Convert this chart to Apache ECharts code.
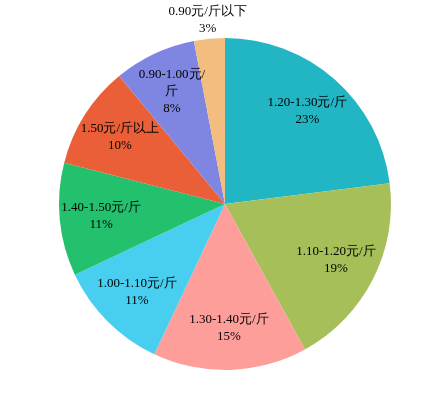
<!DOCTYPE html>
<html><head><meta charset="utf-8">
<script src="https://cdn.jsdelivr.net/npm/echarts@6/dist/echarts.min.js"></script>
<style>html,body{margin:0;padding:0;background:#fff}#c{width:435px;height:393px}</style>
</head><body><div id="c"></div>
<script>
var categories = ['1.20-1.30元/斤','1.10-1.20元/斤','1.30-1.40元/斤','1.00-1.10元/斤','1.40-1.50元/斤','1.50元/斤以上','0.90-1.00元/斤','0.90元/斤以下'];
var values = [23, 19, 15, 11, 11, 10, 8, 3];
var labelTexts = ['1.20-1.30元/斤','1.10-1.20元/斤','1.30-1.40元/斤','1.00-1.10元/斤','1.40-1.50元/斤','1.50元/斤以上','0.90-1.00元/\n斤','0.90元/斤以下'];
var colors = ['#22b5c4','#a6bf59','#fe9e9b','#48cfef','#23c06d','#ea5f37','#7f86e1','#f3bd7f'];

var CX = 225, CY = 204, R = 166;
var chart = echarts.init(document.getElementById('c'));
chart.setOption({
  animation: false,
  color: colors,
  series: [{
    type: 'pie',
    center: [CX, CY],
    radius: [0, R],
    startAngle: 90,
    clockwise: true,
    data: categories.map(function (c, i) { return { name: c, value: values[i] }; }),
    label: {
      show: true,
      position: 'inside',
      color: '#000',
      fontSize: 13,
      lineHeight: 17,
      fontFamily: '"Liberation Serif", "Times New Roman", serif',
      formatter: function (p) { return labelTexts[p.dataIndex] + '\n' + Math.round(p.percent) + '%'; }
    },
    labelLine: { show: false },
    labelLayout: function (p) {
      var r = p.labelRect;
      var lx = r.x + r.width / 2, ly = r.y + r.height / 2;
      var dx = lx - CX, dy = ly - CY;
      var d = Math.sqrt(dx * dx + dy * dy) || 1;
      var target = values[p.dataIndex] < 5 ? 1.115 * R : 0.75 * R;
      return { x: CX + dx / d * target, y: CY + dy / d * target, align: 'center', verticalAlign: 'middle' };
    },
    itemStyle: { borderWidth: 0 },
    emphasis: { disabled: true }
  }]
});
</script></body></html>
